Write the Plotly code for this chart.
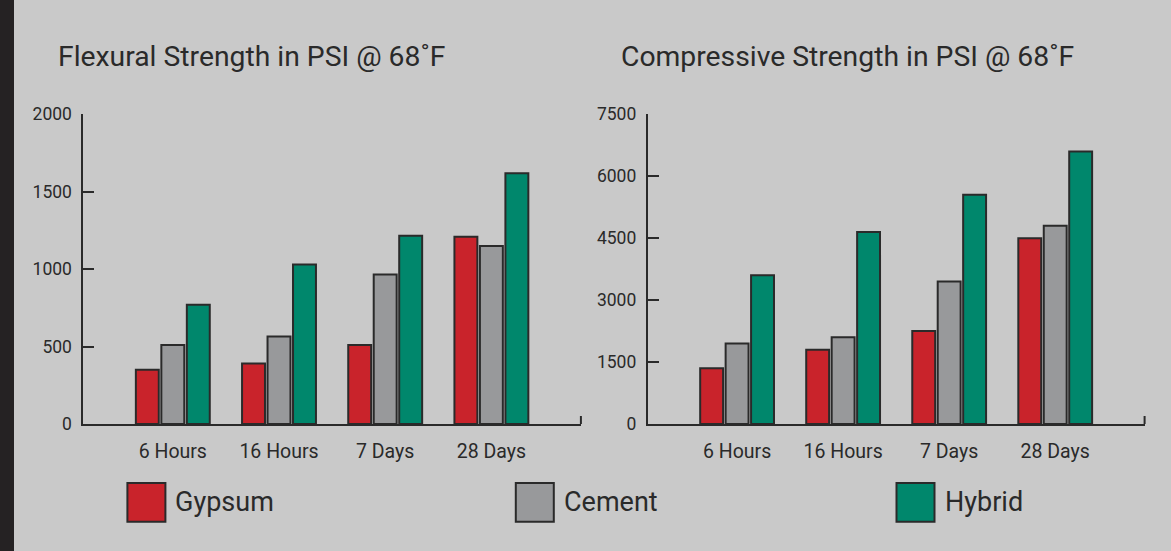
import plotly.graph_objects as go

# ---- data ----
categories = ["6 Hours", "16 Hours", "7 Days", "28 Days"]
series_names = ["Gypsum", "Cement", "Hybrid"]

flexural_gypsum = [350, 390, 510, 1210]
flexural_cement = [510, 565, 965, 1150]
flexural_hybrid = [770, 1030, 1215, 1620]

compressive_gypsum = [1350, 1800, 2250, 4500]
compressive_cement = [1950, 2100, 3450, 4800]
compressive_hybrid = [3600, 4650, 5550, 6600]

flexural_ticks = [0, 500, 1000, 1500, 2000]
compressive_ticks = [0, 1500, 3000, 4500, 6000, 7500]

titles = ["Flexural Strength in PSI @ 68˚F", "Compressive Strength in PSI @ 68˚F"]

# ---- styling ----
W, H = 1171, 551
colors = ["#C9232B", "#98999B", "#00876C"]
ink = "#2a2a2a"
bg = "#c9c9c9"
font_family = "Roboto"

def px_x(v):
    return v / W

def px_y(v):
    return 1 - v / H

fig = go.Figure()

flex = [flexural_gypsum, flexural_cement, flexural_hybrid]
comp = [compressive_gypsum, compressive_cement, compressive_hybrid]

for name, col, vals in zip(series_names, colors, flex):
    fig.add_trace(go.Bar(x=categories, y=vals, name=name, marker=dict(color=col, line=dict(color=ink, width=2)),
                         xaxis="x", yaxis="y", showlegend=False))
for name, col, vals in zip(series_names, colors, comp):
    fig.add_trace(go.Bar(x=categories, y=vals, name=name, marker=dict(color=col, line=dict(color=ink, width=2)),
                         xaxis="x2", yaxis="y2", showlegend=False))

xcommon = dict(type="category", range=[-0.842, 3.843], showline=True, linecolor=ink, linewidth=2,
               ticks="", showgrid=False, zeroline=False, ticklabelstandoff=9, automargin=False,
               tickfont=dict(family=font_family, size=19.5, color=ink), fixedrange=True)
ycommon = dict(showline=True, linecolor=ink, linewidth=2, ticks="inside", ticklen=11, tickwidth=2,
               tickcolor=ink, showgrid=False, zeroline=False, ticklabelstandoff=6, automargin=False,
               tickfont=dict(family=font_family, size=17.5, color=ink), fixedrange=True)

ydom = [px_y(424), px_y(114.3)]

fig.update_layout(
    width=W, height=H,
    margin=dict(l=0, r=0, t=0, b=0, pad=0, autoexpand=False),
    paper_bgcolor=bg, plot_bgcolor="rgba(0,0,0,0)",
    barmode="group", bargap=0.28, bargroupgap=0.1,
    xaxis=dict(domain=[px_x(83.4), px_x(580.9)], anchor="y", **xcommon),
    yaxis=dict(domain=ydom, anchor="x", range=[0, 2000], tickvals=flexural_ticks, **ycommon),
    xaxis2=dict(domain=[px_x(647.8), px_x(1144.6)], anchor="y2", **xcommon),
    yaxis2=dict(domain=ydom, anchor="x2", range=[0, 7500], tickvals=compressive_ticks, **ycommon),
    showlegend=False,
)

shapes = []
# dark strip at left edge
shapes.append(dict(type="rect", xref="paper", yref="paper", x0=0, x1=px_x(14), y0=0, y1=1,
                   fillcolor="#252223", line=dict(width=0), layer="below"))
# end ticks on x-axes
for xr, yr in [("x domain", "y domain"), ("x2 domain", "y2 domain")]:
    shapes.append(dict(type="line", xref=xr, yref=yr, x0=1, x1=1, y0=0, y1=8 / 310,
                       line=dict(color=ink, width=2)))

annotations = []
title_x = [55.5, 618.5]
for t, xx in zip(titles, title_x):
    annotations.append(dict(text=t, xref="paper", yref="paper", x=px_x(xx), y=px_y(57),
                            xanchor="left", yanchor="middle", showarrow=False,
                            font=dict(family=font_family, size=28.3, color=ink)))

# custom legend with large swatches
legend_box_x = [127.4, 515.8, 896.5]
for name, col, bx in zip(series_names, colors, legend_box_x):
    shapes.append(dict(type="rect", xref="paper", yref="paper",
                       x0=px_x(bx), x1=px_x(bx + 38), y0=px_y(521.7), y1=px_y(483),
                       fillcolor=col, line=dict(color=ink, width=2)))
    annotations.append(dict(text=name, xref="paper", yref="paper", x=px_x(bx + 46), y=px_y(502),
                            xanchor="left", yanchor="middle", showarrow=False,
                            font=dict(family=font_family, size=27, color=ink)))

fig.update_layout(shapes=shapes, annotations=annotations)

fig.write_html("out.html", config={"displayModeBar": False},
               post_script="document.documentElement.style.overflow='hidden';document.body.style.margin='0';document.body.style.overflow='hidden';")
